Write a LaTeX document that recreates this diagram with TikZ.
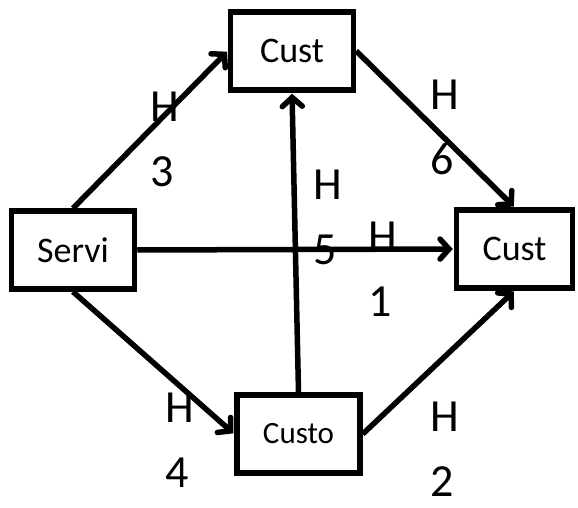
\documentclass[tikz,border=0pt]{standalone}
\usepackage{fontspec}
\setmainfont{Carlito}
\usepackage{tikz}
\usetikzlibrary{arrows.meta}
\tikzset{
cust_box/.style={rectangle, draw, line width=5.5pt, fill=white, inner sep=0pt, minimum width=123pt, minimum height=78pt, font=\fontsize{36}{43}\selectfont},
hop/.style={rectangle, inner sep=0pt, anchor=north west, align=left, font=\fontsize{46}{65}\selectfont},
link/.style={-{Straight Barb[length=9pt, width=20pt, line cap=round]}, line width=5.5pt, shorten >=1pt}
}

\begin{document}
\begin{tikzpicture}[x=1pt, y=-1pt]
    \useasboundingbox (0,0) rectangle (578,508);
    \node[cust_box] (servi) at (73,250) {Servi};
    \node[cust_box] (cust_top) at (292,51) {Cust};
    \node[cust_box, minimum width=116pt] (cust_right) at (514.5,249) {Cust};
    \node[cust_box, font=\fontsize{31}{37}\selectfont] (custo) at (298.5,434) {Custo};
    \draw[link] (servi.north) -- (cust_top.west);
    \draw[link] (cust_top.east) -- (cust_right.north);
    \draw[link] (servi.east) -- (cust_right.west);
    \draw[link] (servi.south) -- (custo.west);
    \draw[link] (custo.east) -- (cust_right.south);
    \draw[link] (custo.north) -- (cust_top.south);
    % hop labels
    \node[hop] (hop_3) at (150,92) {H\\3};
    \node[hop] (hop_6) at (430,80) {H\\6};
    \node[hop] (hop_5) at (313,170) {H\\5};
    \node[hop] (hop_1) at (368,222) {H\\1};
    \node[hop] (hop_4) at (165,393) {H\\4};
    \node[hop] (hop_2) at (430,402) {H\\2};
\end{tikzpicture}
\end{document}
